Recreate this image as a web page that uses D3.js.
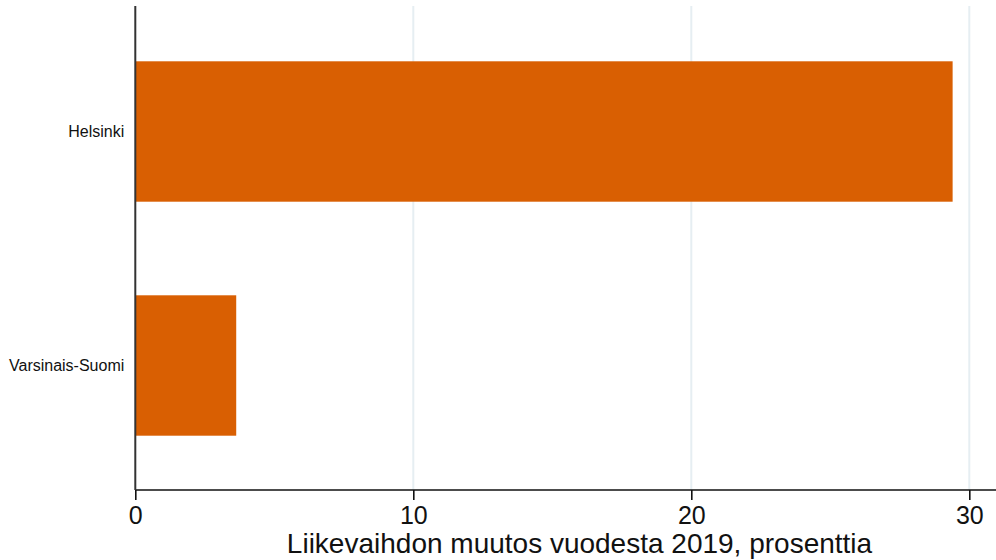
<!DOCTYPE html>
<html>
<head>
<meta charset="utf-8">
<script src="https://cdn.jsdelivr.net/npm/d3@7"></script>
<style>
  body { margin: 0; background: #fff; }
  text { font-family: "Liberation Sans", Arial, sans-serif; }
</style>
</head>
<body>
<svg id="bar_chart" width="996" height="560"></svg>
<script>
// data
var regions = ["Helsinki", "Varsinais-Suomi"];
var change_pct = [29.4, 3.63];
var x_ticks = [0, 10, 20, 30];
var x_title = "Liikevaihdon muutos vuodesta 2019, prosenttia";

var bar_color = "#d95f02";

function draw_chart(){
    var svg = d3.select("#bar_chart");
    svg.selectAll("*").remove();

    var left = 135.3, right = 996, top = 6, bottom = 490;

    var x = d3.scaleLinear()
        .domain([0, 30])
        .range([left, 969.3]);

    var y = d3.scaleBand()
        .domain(regions)
        .range([14.5, 482.5])
        .paddingInner(0.4)
        .paddingOuter(0.2);

    // gridlines
    svg.append("g")
        .selectAll("line")
        .data(x_ticks.filter(function(d){ return d > 0; }))
        .join("line")
        .attr("x1", function(d){ return x(d); })
        .attr("x2", function(d){ return x(d); })
        .attr("y1", top)
        .attr("y2", bottom)
        .attr("stroke", "#e6eef2")
        .attr("stroke-width", 2);

    // bars
    svg.append("g")
        .selectAll("rect")
        .data(regions)
        .join("rect")
        .attr("x", x(0))
        .attr("y", function(d){ return y(d); })
        .attr("width", function(d, i){ return x(change_pct[i]) - x(0); })
        .attr("height", y.bandwidth())
        .attr("fill", bar_color);

    // x axis
    var x_axis = svg.append("g")
        .attr("transform", "translate(0," + bottom + ")")
        .call(d3.axisBottom(x).tickValues(x_ticks).tickSize(10).tickPadding(6).tickSizeOuter(0));
    x_axis.select(".domain")
        .attr("d", "M" + left + ",0H" + right)
        .attr("stroke", "#111")
        .attr("stroke-width", 1.6);
    x_axis.selectAll(".tick line").attr("stroke", "#111").attr("stroke-width", 1.6);
    x_axis.selectAll(".tick text")
        .attr("fill", "#111")
        .style("font-size", "25px")
        .style("font-family", "'Liberation Sans', Arial, sans-serif");

    // y axis
    var y_axis = svg.append("g")
        .attr("transform", "translate(" + left + ",0)")
        .call(d3.axisLeft(y).tickSize(0).tickPadding(11));
    y_axis.select(".domain")
        .attr("d", "M0," + top + "V" + bottom)
        .attr("stroke", "#333")
        .attr("stroke-width", 2);
    y_axis.selectAll(".tick text")
        .attr("fill", "#111")
        .style("font-size", "16px")
        .style("font-family", "'Liberation Sans', Arial, sans-serif");

    // axis title
    svg.append("text")
        .attr("x", 579.5)
        .attr("y", 553)
        .attr("text-anchor", "middle")
        .attr("fill", "#111")
        .style("font-size", "28px")
        .text(x_title);
}

draw_chart();
</script>
</body>
</html>
